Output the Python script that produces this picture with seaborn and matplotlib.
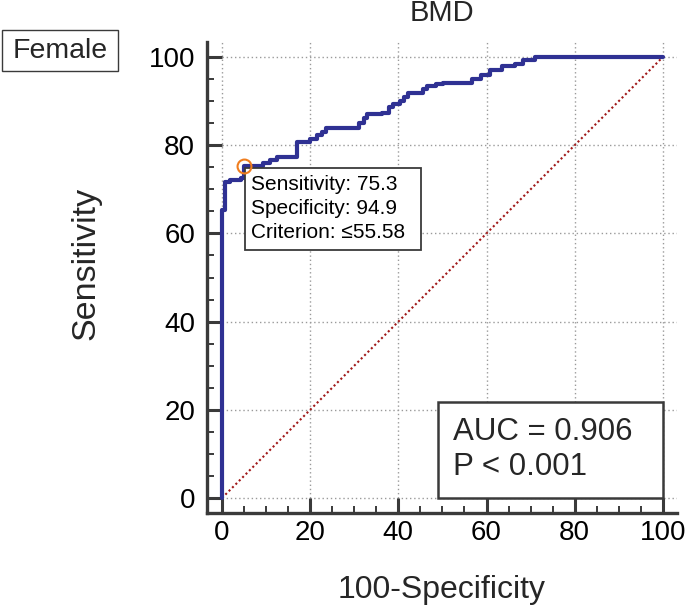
import matplotlib
matplotlib.use("Agg")
import matplotlib.pyplot as plt
import seaborn as sns
import pandas as pd
from matplotlib.patches import Rectangle
from matplotlib.ticker import FixedLocator

# ---------------- data ----------------
step_fpr = [0, 0.7, 1.8, 4.2, 5.1, 9.4, 10.9, 12.4, 17.1, 20.0, 21.5, 22.7, 23.7,
            31.1, 32.2, 32.8, 36.2, 37.9, 38.7, 40.4, 41.2, 42.2, 45.6, 46.5,
            48.5, 50.2, 56.8, 58.8, 60.9, 63.4, 66.4, 68.3, 71.0]
step_tpr = [65.3, 71.6, 72.0, 72.6, 75.3, 76.0, 76.6, 77.3, 80.8, 81.5, 82.2, 83.0, 84.0,
            85.0, 86.2, 87.0, 87.4, 88.6, 89.4, 90.1, 91.0, 91.8, 92.7, 93.5,
            93.9, 94.2, 95.1, 95.9, 97.0, 98.0, 98.5, 99.3, 100.0]
cut_sensitivity = 75.3
cut_specificity = 94.9
criterion = "\u226455.58"
auc_value = 0.906
p_label = "P < 0.001"
tick_values = [0, 20, 40, 60, 80, 100]
title = "BMD"
group_label = "Female"
x_label = "100-Specificity"
y_label = "Sensitivity"

# build step vertices of the ROC curve
fpr, tpr = [0.0], [0.0]
prev = 0.0
for x, y in zip(step_fpr, step_tpr):
    fpr += [x, x]
    tpr += [prev, y]
    prev = y
fpr.append(100.0)
tpr.append(100.0)
roc = pd.DataFrame({"fpr": fpr, "tpr": tpr})

# ---------------- style ----------------
sns.set_style("white")
plt.rcParams['font.family'] = ['Liberation Sans', 'DejaVu Sans']

W, H = 689, 606
fig = plt.figure(figsize=(W / 100, H / 100), dpi=100)
ax = fig.add_axes([207 / W, 93 / H, 470 / W, 471 / H])

XMIN, XMAX = -3.4, 103.2
YMIN, YMAX = -3.4, 103.4
ax.set_xlim(XMIN, XMAX)
ax.set_ylim(YMIN, YMAX)

grid_kw = dict(color="#9a9a9a", lw=1.0, ls=(0, (1, 2)), zorder=0.5)
for t in tick_values:
    ax.plot([t, t], [0, YMAX], **grid_kw)
    ax.plot([0, XMAX], [t, t], **grid_kw)

# diagonal reference
ax.plot([0, 100], [0, 100], color="#a01818", lw=1.5, ls=(0, (1, 1.3)), zorder=1)

# ROC curve
sns.lineplot(data=roc, x="fpr", y="tpr", sort=False, estimator=None,
             color="#2f3193", lw=3.0, ax=ax, zorder=3, clip_on=False)

# optimal cut-off marker
cut_x = 100 - cut_specificity
ax.plot([cut_x], [cut_sensitivity], marker="o", ms=10, mfc="none",
        mec="#f07d1e", mew=1.5, zorder=5, clip_on=False)

# annotation box for the criterion
bx0, by1 = cut_x + 0.1, cut_sensitivity - 0.5
bw, bh = 39.9, 18.6
ax.add_patch(Rectangle((bx0, by1 - bh), bw, bh, facecolor="white",
                       edgecolor="#3a3a3a", lw=1.3, zorder=4))
ann_lines = [f"Sensitivity: {cut_sensitivity:.1f}",
             f"Specificity: {cut_specificity:.1f}",
             f"Criterion: {criterion}"]
for i, s in enumerate(ann_lines):
    ax.text(bx0 + 1.3, by1 - 3.7 - i * 5.45, s, fontsize=15, ha="left",
            va="center", color="black", zorder=6)

# AUC box
ax.add_patch(Rectangle((49.0, 0), 51.0, 21.8, facecolor="white",
                       edgecolor="#3a3a3a", lw=1.8, zorder=4))
ax.text(52.4, 15.0, f"AUC = {auc_value:.3f}", fontsize=22.5, ha="left",
        va="center", zorder=6)
ax.text(52.4, 7.0, p_label, fontsize=22.5, ha="left", va="center", zorder=6)

# axes, ticks
ax.set_xlabel("")
ax.set_ylabel("")
for side in ["top", "right"]:
    ax.spines[side].set_visible(False)
for side in ["left", "bottom"]:
    ax.spines[side].set_linewidth(2.4)
    ax.spines[side].set_color("#3a3a3a")
ax.xaxis.set_major_locator(FixedLocator(tick_values))
ax.yaxis.set_major_locator(FixedLocator(tick_values))
ax.xaxis.set_minor_locator(FixedLocator([v for v in range(5, 101, 5) if v % 20]))
ax.yaxis.set_minor_locator(FixedLocator([v for v in range(5, 101, 5) if v % 20]))
ax.tick_params(which="major", direction="in", length=10.8, width=2.2,
               color="#3a3a3a", labelsize=20, labelcolor="black")
ax.tick_params(which="minor", direction="in", length=5, width=1.4,
               color="#3a3a3a")
ax.tick_params(axis="y", which="major", pad=8.5)
ax.tick_params(axis="x", which="major", pad=5)
ax.tick_params(left=True, bottom=True, which="both")

# labels
fig.text(442 / W, 1 - 590 / H, x_label, fontsize=23, ha="center", va="center")
fig.text(86 / W, 1 - 263 / H, y_label, fontsize=24.5, rotation=90,
         ha="center", va="center")
fig.text(442 / W, 1 - 13 / H, title, fontsize=21, ha="center", va="center")

# group label box
fig.patches.append(Rectangle((2 / W, 1 - 71 / H), 116 / W, 41 / H,
                             transform=fig.transFigure, facecolor="white",
                             edgecolor="#3a3a3a", lw=1.0, figure=fig))
fig.text(60 / W, 1 - 51 / H, group_label, fontsize=20.5, ha="center",
         va="center")

fig.savefig("out.png", dpi=100)
